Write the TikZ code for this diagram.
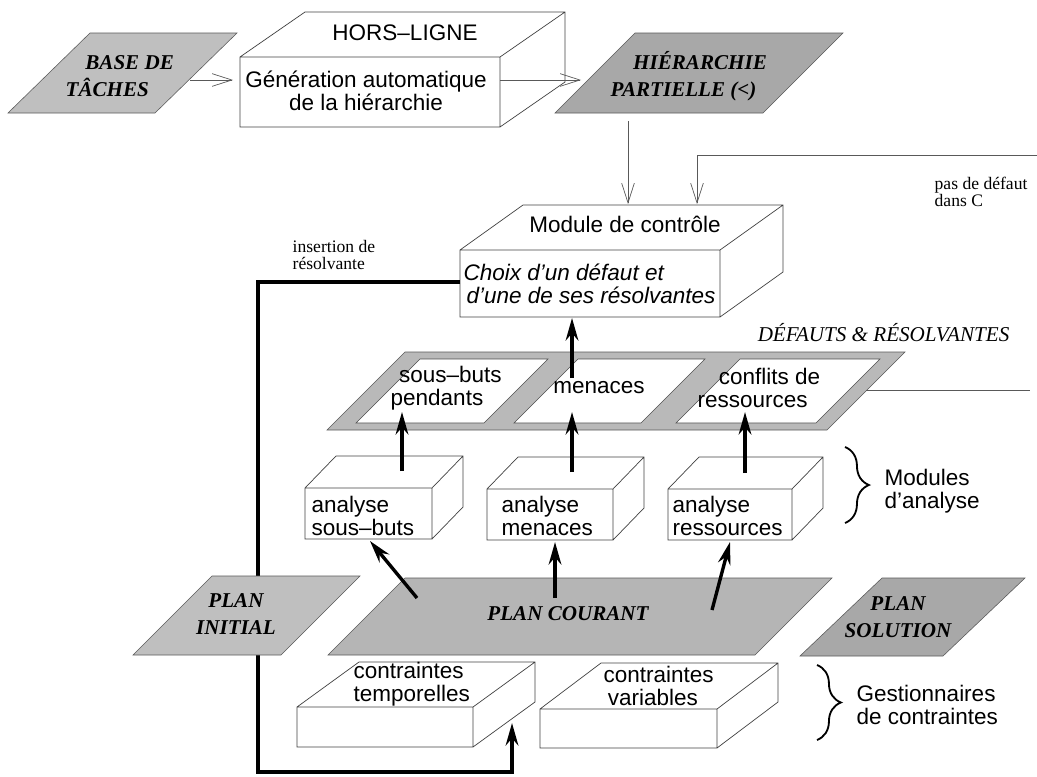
\documentclass[tikz,border=0pt]{standalone}
\usepackage{fontspec}
\setmainfont{Liberation Serif}
\setsansfont{Liberation Sans}
\usetikzlibrary{arrows.meta,decorations.pathreplacing}
\newcommand{\boite}[6]{% front top-left, front bottom-right, depth
  \draw[boxline] (#1,#2) rectangle (#3,#4)
    (#1,#2) -- ++(#5,#6) -- ++(#3-#1,0) -- ++(0,#4-#2) -- (#3,#4)
    (#3,#2) -- ++(#5,#6);}
\newcommand{\plaque}[6][]{% top y, bottom y, top-left x, width, slant
  \draw[#1] (#4,#2) -- ++(#5,0) -- ++(-#6,#3-#2) -- ++(-#5,0) -- cycle;}
\tikzset{
    every node/.style={inner sep=1pt},
    boxline/.style={draw=black!75,line width=0.5pt},
    sanslab/.style={font=\sffamily\fontsize{16}{16.3}\selectfont,align=left},
    italab/.style={font=\sffamily\itshape\fontsize{16}{16.3}\selectfont,align=left},
    planlab/.style={font=\bfseries\itshape\fontsize{15}{19}\selectfont,align=center},
    note/.style={font=\fontsize{12.5}{12.5}\selectfont,align=left},
    pale/.style={fill=gray!50,draw=black!65,line width=0.4pt},
    mid/.style={fill=gray!58,draw=black!65,line width=0.4pt},
    dark/.style={fill=gray!68,draw=black!65,line width=0.4pt},
    tray/.style={fill=gray!55,draw=black!65,line width=0.4pt},
    hole/.style={fill=white,draw=black!70,line width=0.4pt},
    flow/.style={black!65,line width=0.5pt,-{Straight Barb[length=14pt,width=9pt]}},
    conn/.style={black!65,line width=0.5pt},
    fat/.style={line width=2.4pt,-{Stealth[length=16pt,width=9pt]}},
    brace/.style={decorate,decoration={brace,amplitude=17pt},line width=1.3pt}
}
\begin{document}
\begin{tikzpicture}[x=0.025cm,y=-0.025cm]
\useasboundingbox (0,0) rectangle (1037,776);
% hors-ligne
\boite{240}{57}{500}{127}{65}{-45}
\node[sanslab] (hors) at (405,33) {HORS–LIGNE};
\node[sanslab,align=center] (gen) at (366,91) {Génération automatique\\de la hiérarchie};
\plaque[pale]{33}{113}{90}{147}{82}
\node[planlab,align=left,anchor=west] (base) at (64,76) {\hspace*{14pt}BASE DE\\TÂCHES};
\plaque[dark]{33}{113}{635}{208}{80}
\node[planlab,align=left,anchor=west] (hier) at (609,76) {\hspace*{16pt}HIÉRARCHIE\\PARTIELLE (<)};
\coordinate (baseE) at (190,80);
\coordinate (genW) at (233,80);
\coordinate (horsE) at (500,80);
\coordinate (hierW) at (581,80);
\draw[flow] (baseE) -- (genW);
\draw[flow] (horsE) -- (hierW);

% module de controle
\boite{460}{250}{720}{317}{63}{-45}
\node[sanslab] (ctl) at (625,224) {Module de contrôle};
\node[italab,anchor=west] (choix) at (462,284) {Choix d’un défaut et\\\hspace*{2pt}d’une de ses résolvantes};
\coordinate (hierS) at (628,121);
\coordinate (ctlN1) at (628,204);
\coordinate (pddE) at (1037,155);
\coordinate (ctlN2) at (697,204);
\draw[flow] (hierS) -- (ctlN1);
\draw[flow] (pddE) -| (ctlN2);
\node[note,anchor=west] (pdd) at (933,192) {pas de défaut\\dans C};

% insertion de resolvante
\coordinate (ctlW) at (460,282);
\coordinate (insC1) at (258,282);
\coordinate (insC2) at (258,772);
\coordinate (insC3) at (512,772);
\coordinate (ctS) at (512,723);
\draw[fat] (ctlW) -- (insC1) -- (insC2) -- (insC3) -- (ctS);
\node[note,anchor=west] (ins) at (291,255) {insertion de\\résolvante};

% defauts et resolvantes
\node[font=\itshape\fontsize{15}{15}\selectfont,anchor=east] (def) at (1011,333) {DÉFAUTS \& RÉSOLVANTES};
\plaque[tray]{352}{430}{405}{500}{78}
\plaque[hole]{359}{423}{420}{128}{64}
\plaque[hole]{359}{423}{578}{127}{64}
\plaque[hole]{359}{423}{740}{140}{64}
\node[sanslab,anchor=west] (sbp) at (389,388) {\hspace*{6pt}sous–buts\\pendants};
\node[sanslab] (men) at (599,388) {menaces};
\node[sanslab,anchor=west] (cdr) at (696,388) {\hspace*{15pt}conflits de\\ressources};
\coordinate (trayE) at (866,390);
\coordinate (trayOut) at (1030,390);
\draw[conn] (trayE) -- (trayOut);
\coordinate (menN) at (572,378);
\coordinate (ctlS) at (572,318);
\draw[fat] (menN) -- (ctlS);

% modules d'analyse
\boite{305}{488}{432}{539}{31}{-32}
\boite{487}{489}{613}{540}{31}{-32}
\boite{668}{489}{792}{540}{31}{-32}
\node[sanslab,anchor=west] (an1) at (310,516) {analyse\\sous–buts};
\node[sanslab,anchor=west] (an2) at (500,516) {analyse\\menaces};
\node[sanslab,anchor=west] (an3) at (671,516) {analyse\\ressources};
\coordinate (an1N) at (402,471);
\coordinate (an2N) at (572,472);
\coordinate (an3N) at (745,473);
\coordinate (sbpS) at (402,412);
\coordinate (menS) at (572,412);
\coordinate (cdrS) at (745,412);
\draw[fat] (an1N) -- (sbpS);
\draw[fat] (an2N) -- (menS);
\draw[fat] (an3N) -- (cdrS);
\coordinate (brA1) at (845,447);
\coordinate (brA2) at (845,523);
\draw[brace] (brA1) -- (brA2);
\node[sanslab,anchor=west] (mods) at (883,491) {Modules\\d’analyse};

% plans
\plaque[pale]{576}{655}{212}{148}{79}
\node[planlab] (pi) at (236,614) {PLAN\\INITIAL};
\plaque[mid]{578}{655}{405}{427}{77}
\node[planlab] (pc) at (568,614) {PLAN COURANT};
\plaque[dark]{578}{656}{882}{143}{82}
\node[planlab] (ps) at (898,617) {PLAN\\SOLUTION};
\coordinate (pc1) at (417,598);
\coordinate (pc2) at (555,598);
\coordinate (pc3) at (712,610);
\coordinate (an1S) at (370,541);
\coordinate (an2S) at (555,542);
\coordinate (an3S) at (730,542);
\draw[fat] (pc1) -- (an1S);
\draw[fat] (pc2) -- (an2S);
\draw[fat] (pc3) -- (an3S);

% gestionnaires de contraintes
\boite{297}{707}{473}{747}{62}{-45}
\boite{540}{709}{717}{748}{61}{-46}
\node[sanslab,anchor=west] (ct) at (352,684) {contraintes\\temporelles};
\node[sanslab,anchor=west] (cv) at (602,686) {contraintes\\\hspace*{3pt}variables};
\coordinate (brB1) at (817,665);
\coordinate (brB2) at (817,740);
\draw[brace] (brB1) -- (brB2);
\node[sanslab,anchor=west] (gest) at (855,705) {Gestionnaires\\de contraintes};
\end{tikzpicture}
\end{document}
